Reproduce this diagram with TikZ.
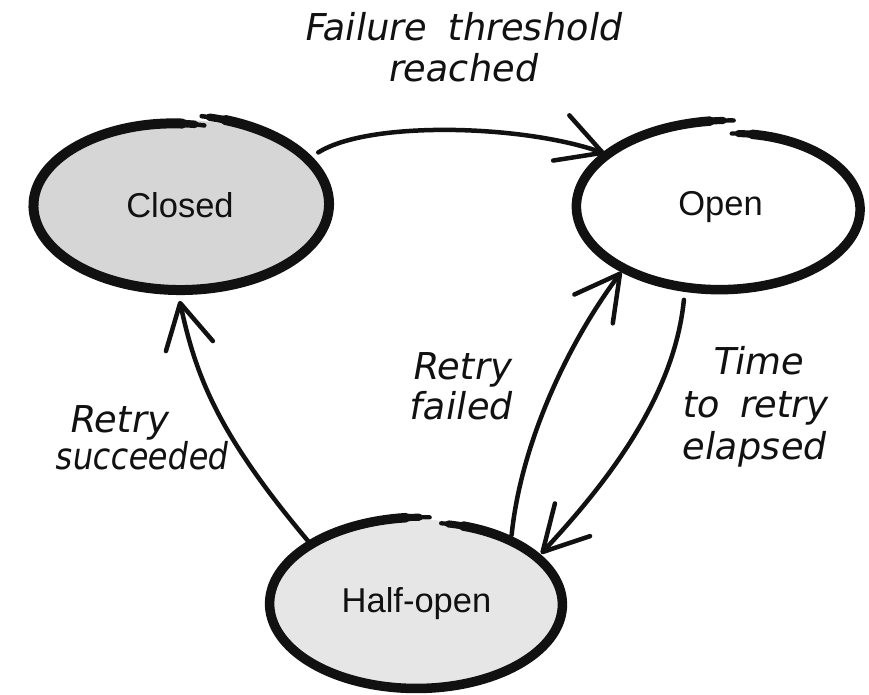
\documentclass[tikz,border=0pt]{standalone}
\usepackage{fontspec}
\setmainfont{Liberation Sans}
\newfontfamily\handfont{DejaVu Sans}[FakeSlant=0.18]
\usetikzlibrary{arrows.meta,shapes.geometric}
\definecolor{closedfill}{HTML}{D6D6D6}
\definecolor{halffill}{HTML}{E6E6E6}
\definecolor{inkcol}{HTML}{111111}
% sketched loop: #1 node, #2 a, #3 b, #4 start angle, #5 sweep, #6 radius function, #7 line width
\newcommand{\skloop}[7]{%
  \pgfmathsetmacro{\skEa}{#5-4}%
  \pgfmathsetmacro{\skEb}{#5-10}%
  \pgfmathsetmacro{\skEc}{#5-9}%
  \begin{scope}[shift={(#1.center)}, line cap=round, line join=round, draw=inkcol]
    \draw[line width=0.45*#7] plot[smooth, domain=0:4, samples=4, variable=\t]
      ({#2*#6(\t)*cos(#4-\t)},{#3*#6(\t)*sin(#4-\t)});
    \draw[line width=0.75*#7] plot[smooth, domain=3:10, samples=5, variable=\t]
      ({#2*#6(\t)*cos(#4-\t)},{#3*#6(\t)*sin(#4-\t)});
    \draw[line width=#7] plot[smooth, domain=9:\skEc, samples=120, variable=\t]
      ({#2*#6(\t)*cos(#4-\t)},{#3*#6(\t)*sin(#4-\t)});
    \draw[line width=0.75*#7] plot[smooth, domain=\skEb:\skEa, samples=5, variable=\t]
      ({#2*#6(\t)*cos(#4-\t)},{#3*#6(\t)*sin(#4-\t)});
    \draw[line width=0.45*#7] plot[smooth, domain=\skEa:#5, samples=4, variable=\t]
      ({#2*#6(\t)*cos(#4-\t)},{#3*#6(\t)*sin(#4-\t)});
  \end{scope}%
}
\begin{document}
\begin{tikzpicture}[x=1pt, y=1pt,
  stateshape/.style={ellipse, inner sep=0pt, text=inkcol,
    font=\fontsize{34.5}{40}\selectfont},
  handlbl/.style={anchor=base, inner sep=0pt, text=inkcol,
    font=\handfont\fontsize{37}{44}\selectfont},
  connarrow/.style={draw=inkcol, line width=4.5pt, line cap=round,
    -{Straight Barb[length=44pt, width=48pt, round]}},
  declare function={
    sC(\u)=1+0.055*exp(-\u/50)-0.05*exp(-(362-\u)/50);
    sO(\u)=1-0.1*exp(-\u/60)+0.06*exp(-(360-\u)/50);
    sH(\u)=1-0.03*exp(-\u/40)+0.03*exp(-(355-\u)/40);
  }]
\fill[white] (0,0) rectangle (869,695);
\useasboundingbox (0,0) rectangle (869,695);

% states
\node[stateshape, fill=closedfill, minimum width=295pt, minimum height=170pt, outer sep=5pt]
  (closed) at (180,490) {Closed};
\node[stateshape, fill=white, minimum width=286pt, minimum height=165pt, outer sep=4.5pt]
  (open) at (720.5,487.5) {Open};
\node[stateshape, fill=halffill, minimum width=293pt, minimum height=169pt, outer sep=4.5pt]
  (half) at (416.5,91) {Half-open};

% sketched outlines
\skloop{closed}{147.5}{85}{82}{362}{sC}{10pt}
\skloop{open}{143}{82.5}{85}{360}{sO}{9.5pt}
\skloop{half}{146.5}{84.5}{80}{355}{sH}{9.5pt}

% transitions
\draw[connarrow, shorten <=10pt] (closed.20) .. controls (370,575) and (525,570) .. (open.155);
\draw[connarrow, shorten >=6pt] (half.150) .. controls (218,261) and (196,318) .. (closed.269);
\draw[connarrow] (half.36) .. controls (521,252) and (568,352) .. (open.213);
\draw[connarrow, shorten <=8pt] (open.247) .. controls (674,295) and (602,207) .. (half.22);

% labels
\node[handlbl] (fail1) at (462,654) {Failure\hspace{10pt} threshold};
\node[handlbl] (fail2) at (462,613) {reached};
\node[handlbl] (rfail1) at (461,315) {Retry};
\node[handlbl] (rfail2) at (460,275) {failed};
\node[handlbl] (time1) at (757,320) {Time};
\node[handlbl] (time2) at (754,277) {to\hspace{8pt} retry};
\node[handlbl] (time3) at (753,235) {elapsed};
\node[handlbl] (succ1) at (118,262) {Retry};
\node[handlbl] (succ2) at (141,225) {\scalebox{0.87}[1]{succeeded}};
\end{tikzpicture}
\end{document}
